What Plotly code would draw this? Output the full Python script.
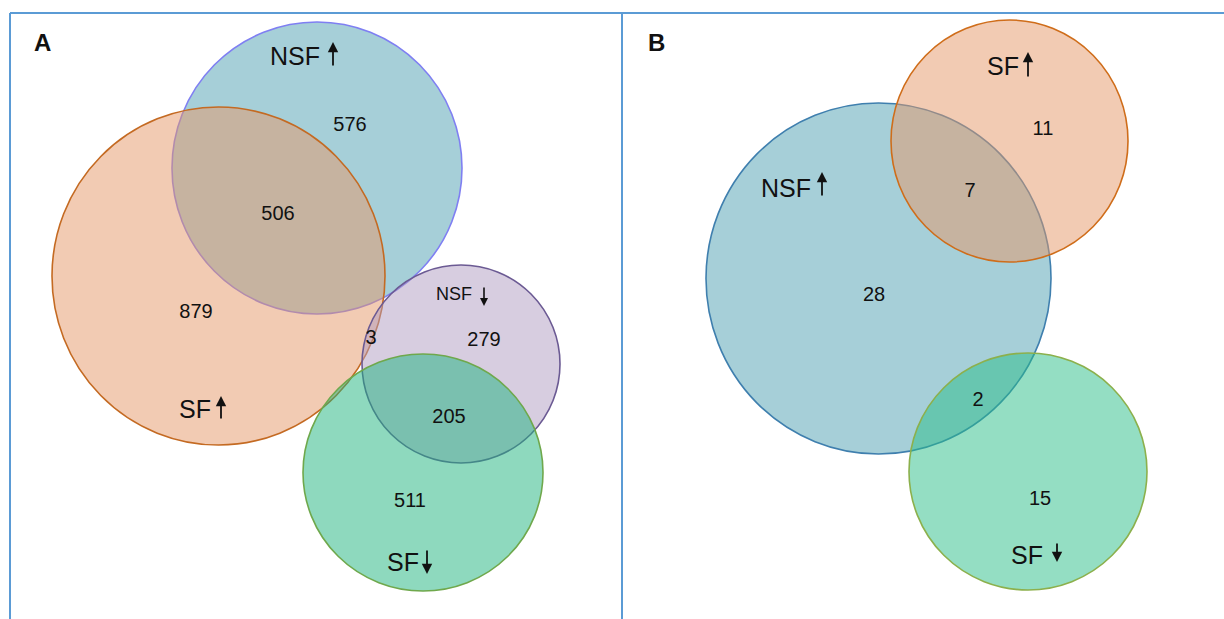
import plotly.graph_objects as go

# Set names and region counts for both Venn diagrams
panel_a_sets = ["NSF", "SF", "NSF", "SF"]
panel_a_dirs = ["up", "up", "down", "down"]
panel_a_regions = ["NSF↑ only", "NSF↑ ∩ SF↑", "SF↑ only", "SF↑ ∩ NSF↓",
                   "NSF↓ only", "NSF↓ ∩ SF↓", "SF↓ only"]
panel_a_counts = [576, 506, 879, 3, 279, 205, 511]

panel_b_sets = ["SF", "NSF", "SF"]
panel_b_dirs = ["up", "up", "down"]
panel_b_regions = ["SF↑ only", "NSF↑ ∩ SF↑", "NSF↑ only", "NSF↑ ∩ SF↓", "SF↓ only"]
panel_b_counts = [11, 7, 28, 2, 15]

W, H = 1224, 619

# circle geometry (x0, y0, x1, y1) in pixel space, fill, line colour
circles = [
    # panel A
    ((172, 22, 462, 314), "rgba(77,159,177,0.5)", "#7f7ff2"),
    ((52, 107, 385, 445), "rgba(229,151,103,0.5)", "#c46a22"),
    ((362, 265, 560, 463), "rgba(175,155,193,0.5)", "#6b5a93"),
    ((303, 354, 543, 591), "rgba(30,180,125,0.5)", "#6fa84c"),
    # panel B
    ((706, 103, 1051, 454), "rgba(77,159,177,0.5)", "#3f7fae"),
    ((891, 20, 1128, 262), "rgba(229,151,103,0.5)", "#cf6d1a"),
    ((909, 353, 1147, 590), "rgba(41,189,135,0.5)", "#8cb04c"),
]

fig = go.Figure()

shapes = []
for (x0, y0, x1, y1), fill, line in circles:
    shapes.append(dict(type="circle", xref="x", yref="y", x0=x0, y0=y0, x1=x1, y1=y1,
                       fillcolor=fill, line=dict(color=line, width=1.6), layer="below"))

# panel frames
frame = "#5b9bd5"
shapes += [
    dict(type="line", xref="x", yref="y", x0=10, y0=13, x1=1224, y1=13, line=dict(color=frame, width=2)),
    dict(type="line", xref="x", yref="y", x0=10, y0=13, x1=10, y1=619, line=dict(color=frame, width=2)),
    dict(type="line", xref="x", yref="y", x0=622, y0=13, x1=622, y1=619, line=dict(color=frame, width=2)),
]

font = "Liberation Sans, Arial, sans-serif"

# count labels
a_pos = [(350, 126), (278, 215), (196, 313), (371, 339), (484, 341), (449, 418), (410, 502)]
b_pos = [(1043, 130), (970, 192), (874, 296), (978, 401), (1040, 500)]
fig.add_trace(go.Scatter(
    x=[p[0] for p in a_pos + b_pos], y=[p[1] for p in a_pos + b_pos],
    text=[str(v) for v in panel_a_counts + panel_b_counts],
    customdata=panel_a_regions + panel_b_regions,
    mode="text", textfont=dict(family=font, size=20, color="#111"),
    hovertemplate="%{customdata}: %{text}<extra></extra>", showlegend=False))

# set labels: text centre (x, y, size) and arrow (x, top, bottom)
a_lab = [((295, 56, 25), (333, 42, 67)),
         ((195, 409, 25), (221, 396, 420)),
         ((454, 294, 18), (484, 286, 306)),
         ((403, 562, 25), (427, 549, 574))]
b_lab = [((1003, 66, 25), (1028, 52, 78)),
         ((786, 188, 25), (822, 172, 197)),
         ((1027, 555, 25), (1057, 542, 562))]

annotations = []
for name, d, ((tx, ty, s), (axx, top, bot)) in zip(panel_a_sets + panel_b_sets,
                                                  panel_a_dirs + panel_b_dirs,
                                                  a_lab + b_lab):
    annotations.append(dict(x=tx, y=ty, xref="x", yref="y", showarrow=False,
                            text=name, font=dict(family=font, size=s, color="#111")))
    if d == "up":
        tip, tail = top, bot
    else:
        tip, tail = bot, top
    annotations.append(dict(x=axx, y=tip, xref="x", yref="y", ax=axx, ay=tail,
                            axref="x", ayref="y", text="", showarrow=True,
                            arrowhead=2, arrowsize=1.15 if s > 20 else 1.0,
                            arrowwidth=1.8 if s > 20 else 1.6,
                            arrowcolor="#111", standoff=0, startstandoff=0))

for letter, x in (("A", 42), ("B", 656)):
    annotations.append(dict(x=x, y=42, xref="x", yref="y", showarrow=False,
                            text=f"<b>{letter}</b>", font=dict(family=font, size=24, color="#111")))

fig.update_layout(
    width=W, height=H, margin=dict(l=0, r=0, t=0, b=0),
    paper_bgcolor="white", plot_bgcolor="white",
    xaxis=dict(range=[0, W], visible=False, fixedrange=True),
    yaxis=dict(range=[H, 0], visible=False, fixedrange=True),
    shapes=shapes, annotations=annotations,
)

fig.write_html("out.html")
